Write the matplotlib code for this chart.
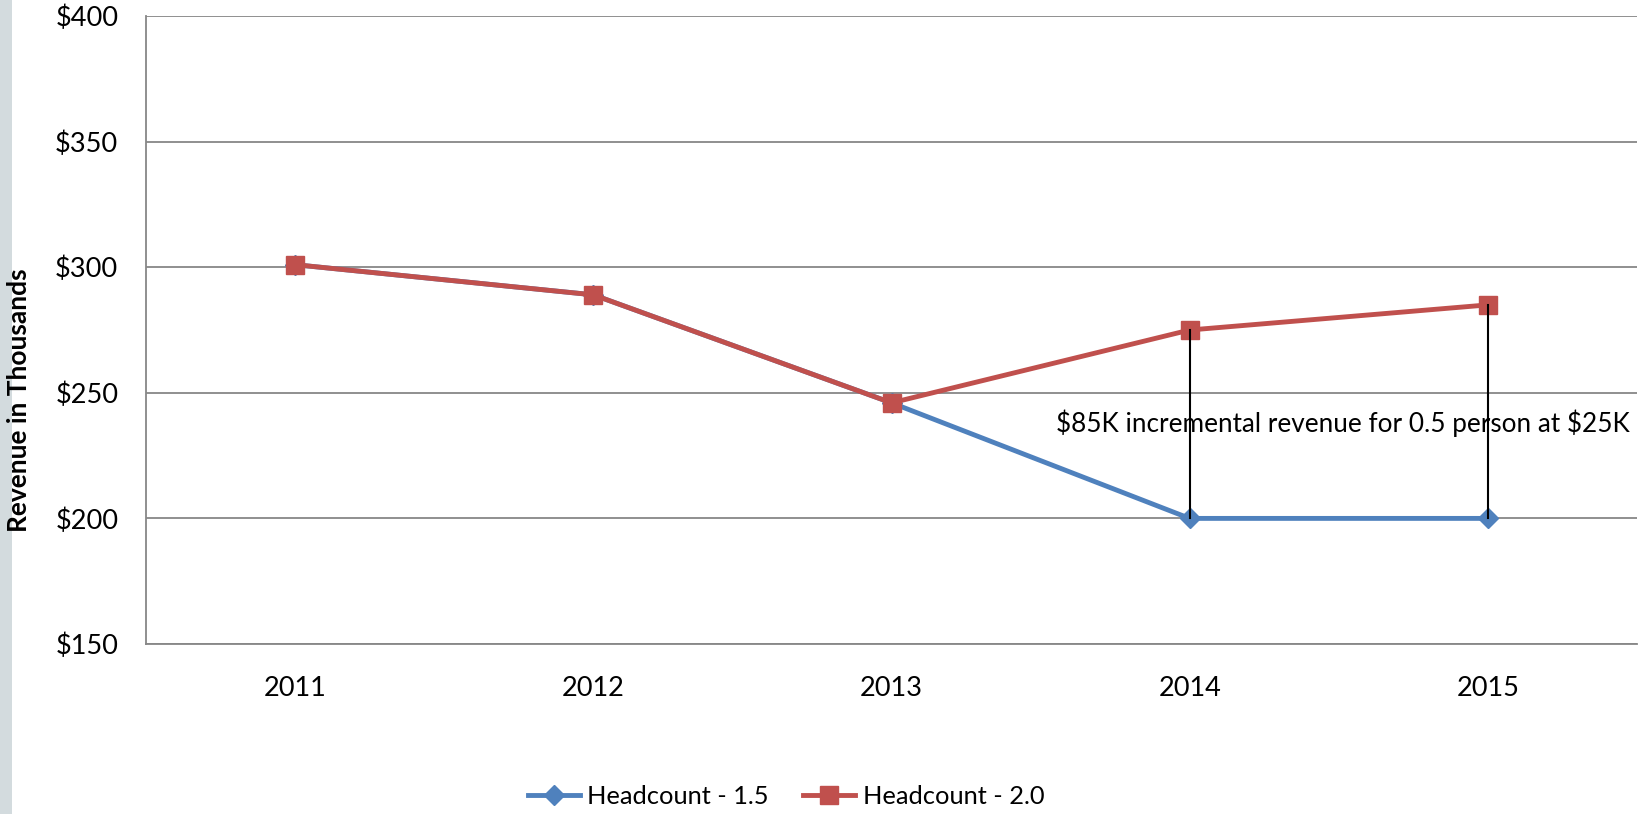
import matplotlib.pyplot as plt
from matplotlib.patches import Rectangle

years = ['2011', '2012', '2013', '2014', '2015']
headcount_15 = [301, 289, 246, 200, 200]
headcount_20 = [301, 289, 246, 275, 285]
yticks = [150, 200, 250, 300, 350, 400]
note = r'\$85K incremental revenue for 0.5 person at \$25K'

plt.rcParams['font.family'] = ['Lato', 'DejaVu Sans']

fig = plt.figure(figsize=(16.39, 8.14), dpi=100)
# patterned strip at the left edge of the slide
fig.patches.append(Rectangle((0, 0), 12 / 1639, 1, transform=fig.transFigure,
                             facecolor='#d3dbde', edgecolor='none'))

ax = fig.add_axes([146 / 1639, 170 / 814, 1491 / 1639, 628 / 814])
x = range(len(years))

ax.plot(x, headcount_15, color='#4f81bd', lw=3.5, marker='D', ms=10,
        label='Headcount - 1.5', zorder=3)
ax.plot(x, headcount_20, color='#c0504d', lw=3.5, marker='s', ms=13.5,
        label='Headcount - 2.0', zorder=4)

# gap lines between the two scenarios
for i in (3, 4):
    ax.plot([i, i], [headcount_15[i], headcount_20[i]], color='black', lw=1.5, zorder=5)

ax.text(2.55, 238, note, fontsize=18.8, ha='left', va='center', clip_on=False)

ax.set_xlim(-0.5, 4.5)
ax.set_ylim(150, 400)
ax.set_xticks(list(x))
ax.set_xticklabels(years)
ax.set_yticks(yticks)
ax.set_yticklabels([f'\\${v}' for v in yticks])
ax.tick_params(length=0, labelsize=19.5)
ax.tick_params(axis='x', pad=23)
ax.tick_params(axis='y', pad=20)
ax.grid(axis='y', color='#878787', lw=1.3)
ax.set_axisbelow(True)
for side in ('top', 'right'):
    ax.spines[side].set_visible(False)
for side in ('left', 'bottom'):
    ax.spines[side].set_color('#878787')
    ax.spines[side].set_linewidth(1.3)

fig.text(19 / 1639, 0.5 + (814 / 2 - 400) / 814, 'Revenue in Thousands', rotation=90,
         fontsize=19, fontweight='bold', ha='center', va='center')

fig.legend(loc='center', bbox_to_anchor=(786 / 1639, 18 / 814), ncol=2, frameon=False,
           fontsize=18.3, handlelength=2.05, handletextpad=0.29, columnspacing=1.36)

fig.savefig('out.png', dpi=100)
